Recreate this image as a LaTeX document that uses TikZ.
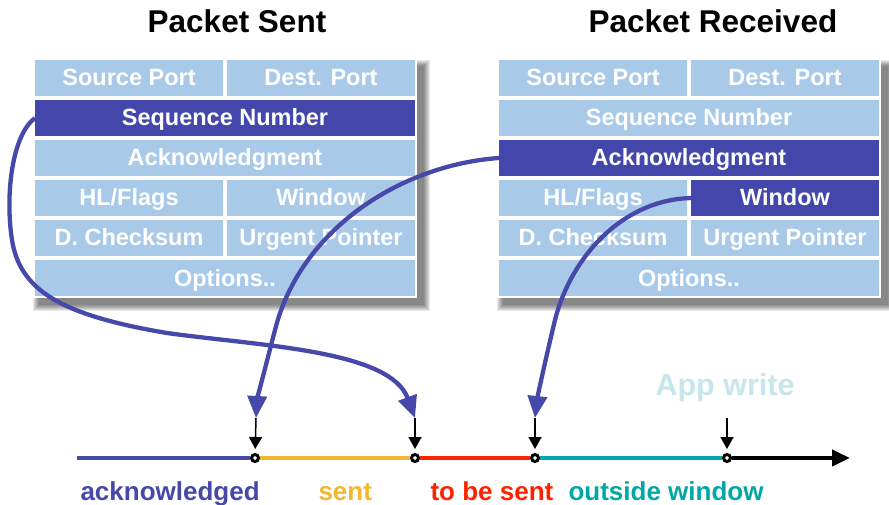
\documentclass[tikz,border=0pt]{standalone}
\usepackage{fontspec}
\setmainfont{Liberation Sans}
\usetikzlibrary{arrows.meta}
\definecolor{cellblue}{HTML}{A9C9E9}
\definecolor{darkblue}{HTML}{4346AA}
\definecolor{lineblue}{HTML}{4649AA}
\definecolor{goldline}{HTML}{F2B730}
\definecolor{redline}{HTML}{FF2200}
\definecolor{tealline}{HTML}{00A8A5}
\definecolor{appcol}{HTML}{C6E6EC}
\begin{document}
\begin{tikzpicture}[x=1pt,y=-1pt,
 cell/.style={rectangle, fill=cellblue, text=white, inner sep=0pt, outer sep=0pt, minimum height=36pt, text height=18pt, text depth=2pt, anchor=north west, font=\bfseries\fontsize{23.5}{28}\selectfont},
 half/.style={cell, minimum width=188pt},
 full/.style={cell, minimum width=380pt},
 hl/.style={fill=darkblue},
 ttl/.style={font=\bfseries\fontsize{31.5}{36}\selectfont, anchor=base},
 lbl/.style={font=\bfseries\fontsize{26}{30}\selectfont, anchor=base west},
 bigarrow/.style={draw=lineblue, line width=4.3pt, -{Triangle[width=19pt,length=22pt]}},
 smallarr/.style={draw=black, line width=1.5pt, -{Triangle[width=13pt,length=12pt]}, shorten >=4pt},
 seg/.style={line width=4pt},
 tdot/.style={circle, draw=black, fill=white, line width=3pt, minimum size=7pt, inner sep=0pt}
]
\useasboundingbox (0,0) rectangle (889,505);

% shadows and white backing
\foreach \x in {35,499}{
  \foreach \i in {0,...,6}
    \fill[black, opacity=0.085] ({\x+4-\i*1.0},{66-\i*1.0}) rectangle ({\x+389+\i*1.0},{305+\i*1.0});
  \fill[white] ({\x-2},58) rectangle ({\x+382},298);
}

% titles
\node[ttl] (tsent) at (237,33) {Packet Sent};
\node[ttl] (trecv) at (713,33) {Packet Received};

% left table
\node[half] (ls) at (35,60) {Source Port};
\node[half] (ld) at (227,60) {Dest. Port};
\node[full,hl] (lq) at (35,100) {Sequence Number};
\node[full] (la) at (35,140) {Acknowledgment};
\node[half] (lh) at (35,180) {HL/Flags};
\node[half] (lw) at (227,180) {Window};
\node[half] (lc) at (35,220) {D. Checksum};
\node[half] (lu) at (227,220) {Urgent Pointer};
\node[full] (lo) at (35,260) {Options..};

% right table
\node[half] (rs) at (499,60) {Source Port};
\node[half] (rd) at (691,60) {Dest. Port};
\node[full] (rq) at (499,100) {Sequence Number};
\node[full,hl] (ra) at (499,140) {Acknowledgment};
\node[half] (rh) at (499,180) {HL/Flags};
\node[half,hl] (rw) at (691,180) {Window};
\node[half] (rc) at (499,220) {D. Checksum};
\node[half] (ru) at (691,220) {Urgent Pointer};
\node[full] (ro) at (499,260) {Options..};

% timeline
\node[tdot] (p1) at (255,458) {};
\node[tdot] (p2) at (415,458) {};
\node[tdot] (p3) at (535,458) {};
\node[tdot] (p4) at (727,458) {};
\coordinate (s0) at (77,458);
\coordinate (e0) at (850,458);
\draw[seg, lineblue] (s0) -- (p1);
\draw[seg, goldline] (p1) -- (p2);
\draw[seg, redline] (p2) -- (p3);
\draw[seg, tealline] (p3) -- (p4);
\draw[seg, black, -{Triangle[width=16pt,length=18pt]}] (p4) -- (e0);

% arrow tips
\coordinate (a1) at (256,418);
\coordinate (a2) at (415,418);
\coordinate (a3) at (535,418);
\coordinate (a4) at (727,418);

% blue curves
\draw[bigarrow] (lq.west) .. controls (12,135) and (5,195) .. (12,240)
  .. controls (20,290) and (60,315) .. (167,333)
  .. controls (260,346) and (390,350) .. (a2);
\draw[bigarrow] (ra.west) .. controls (400,165) and (300,230) .. (275,330)
  .. controls (262,380) and (257,400) .. (a1);
\draw[bigarrow] (rw.west) .. controls (620,200) and (570,260) .. (555,320)
  .. controls (543,370) and (537,400) .. (a3);

% small black arrows
\draw[smallarr] (a1) -- (p1);
\draw[smallarr] (a2) -- (p2);
\draw[smallarr] (a3) -- (p3);
\draw[smallarr] (a4) -- (p4);

% labels
\node[lbl, text=lineblue] (lab1) at (77,500) {acknowledged};
\node[lbl, text=goldline] (lab2) at (315,500) {sent};
\node[lbl, text=redline] (lab3) at (427,500) {to be sent};
\node[lbl, text=tealline] (lab4) at (565,500) {outside window};
\node[font=\bfseries\fontsize{30.5}{34}\selectfont, text=appcol, anchor=base west] (appw) at (652,395) {App write};
\end{tikzpicture}
\end{document}
